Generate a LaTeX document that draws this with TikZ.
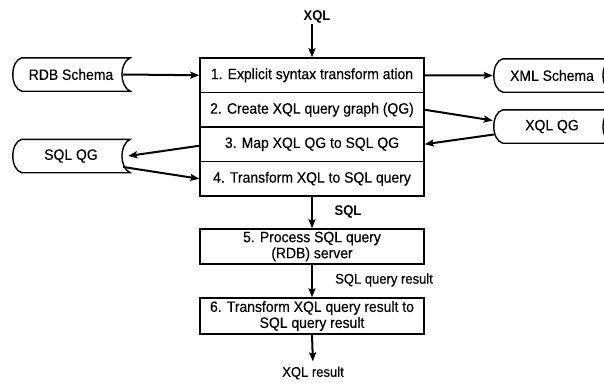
\documentclass[tikz,border=0pt]{standalone}
\usepackage{fontspec}
\setmainfont{Liberation Sans}[FakeStretch=0.93, UprightFeatures={FakeBold=0.35}]
\usetikzlibrary{arrows.meta,calc}

\tikzset{
  stepbox/.style={draw, line width=1.4pt, minimum width=224pt, minimum height=34.5pt,
    inner sep=0pt, align=center, font=\fontsize{15}{16}\selectfont},
  store/.style={minimum width=118pt, minimum height=33pt, inner sep=0pt,
    font=\fontsize{15}{16}\selectfont},
  storeline/.style={line width=1.4pt},
  arr/.style={line width=2pt, -{Stealth[length=9pt,width=7pt,inset=1.5pt]}},
  lbl/.style={inner sep=1pt, font=\fontsize{14}{15}\selectfont},
  blbl/.style={inner sep=1pt, font=\bfseries\fontsize{14}{15}\selectfont},
}

% stored-data outline: convex left end, concave right end
\newcommand\storeoutline[1]{%
  \draw[storeline] ($(#1.north west)+(10,0)$) -- (#1.north east)
    .. controls ($(#1.north east)+(-11,5)$) and ($(#1.south east)+(-11,-5)$) .. (#1.south east)
    -- ($(#1.south west)+(10,0)$)
    .. controls ($(#1.south west)+(-2,-3)$) and ($(#1.north west)+(-2,3)$) .. cycle;}

\begin{document}
\begin{tikzpicture}[x=1pt, y=-1pt]
  \useasboundingbox (0,0) rectangle (604,383);
  \clip (0,0) rectangle (604,383);

  % main processing block
  \node[stepbox] (r1) at (312,75.25)  {1. Explicit syntax transform ation};
  \node[stepbox] (r2) at (312,109.75) {2. Create XQL query graph (QG)};
  \node[stepbox] (r3) at (312,144.25) {3. Map XQL QG to SQL QG};
  \node[stepbox] (r4) at (312,178.75) {4. Transform XQL to SQL query};

  % data stores
  \node[store] (rdb) at (71,74.5)   {RDB Schema};
  \node[store] (sqg) at (71,156)    {SQL QG};
  \node[store] (xml) at (552,75.5)  {XML Schema};
  \node[store] (xqg) at (552,126.5) {XQL QG};
  \storeoutline{rdb}
  \storeoutline{sqg}
  \storeoutline{xml}
  \storeoutline{xqg}

  % later stages
  \node[stepbox, minimum height=35pt] (b5) at (312,246.5)
    {5. Process SQL query\\(RDB) server};
  \node[stepbox, minimum height=36pt] (b6) at (312,316)
    {6. Transform XQL query result to\\SQL query result};

  % labels
  \node[blbl] (xql) at (317,17) {XQL};
  \node[blbl] (sqll) at (348,212) {SQL};
  \node[lbl, anchor=west] (sqr) at (334,280) {SQL query result};
  \node[lbl] (xres) at (313,373) {XQL result};

  % connectors
  \draw[arr] (xql.south -| r1.north) -- (r1.north);
  \draw[arr] ($(rdb.east)+(-7,0)$) -- (r1.west);
  \draw[arr] (r1.east) -- (xml.west);
  \draw[arr] (r2.east) -- ($(xqg.west)+(0,-6)$);
  \draw[arr] ($(xqg.west)+(1,8)$) -- (r3.east);
  \draw[arr] ($(r3.west)+(0,1.5)$) -- ($(sqg.east)+(-2,0)$);
  \draw[arr] ($(sqg.east)+(-7,11)$) -- (r4.west);
  \draw[arr] (r4.south) -- (b5.north);
  \draw[arr] (b5.south) -- (b6.north);
  \draw[arr, shorten >=4pt] (b6.south) -- (xres.north);
\end{tikzpicture}
\end{document}
